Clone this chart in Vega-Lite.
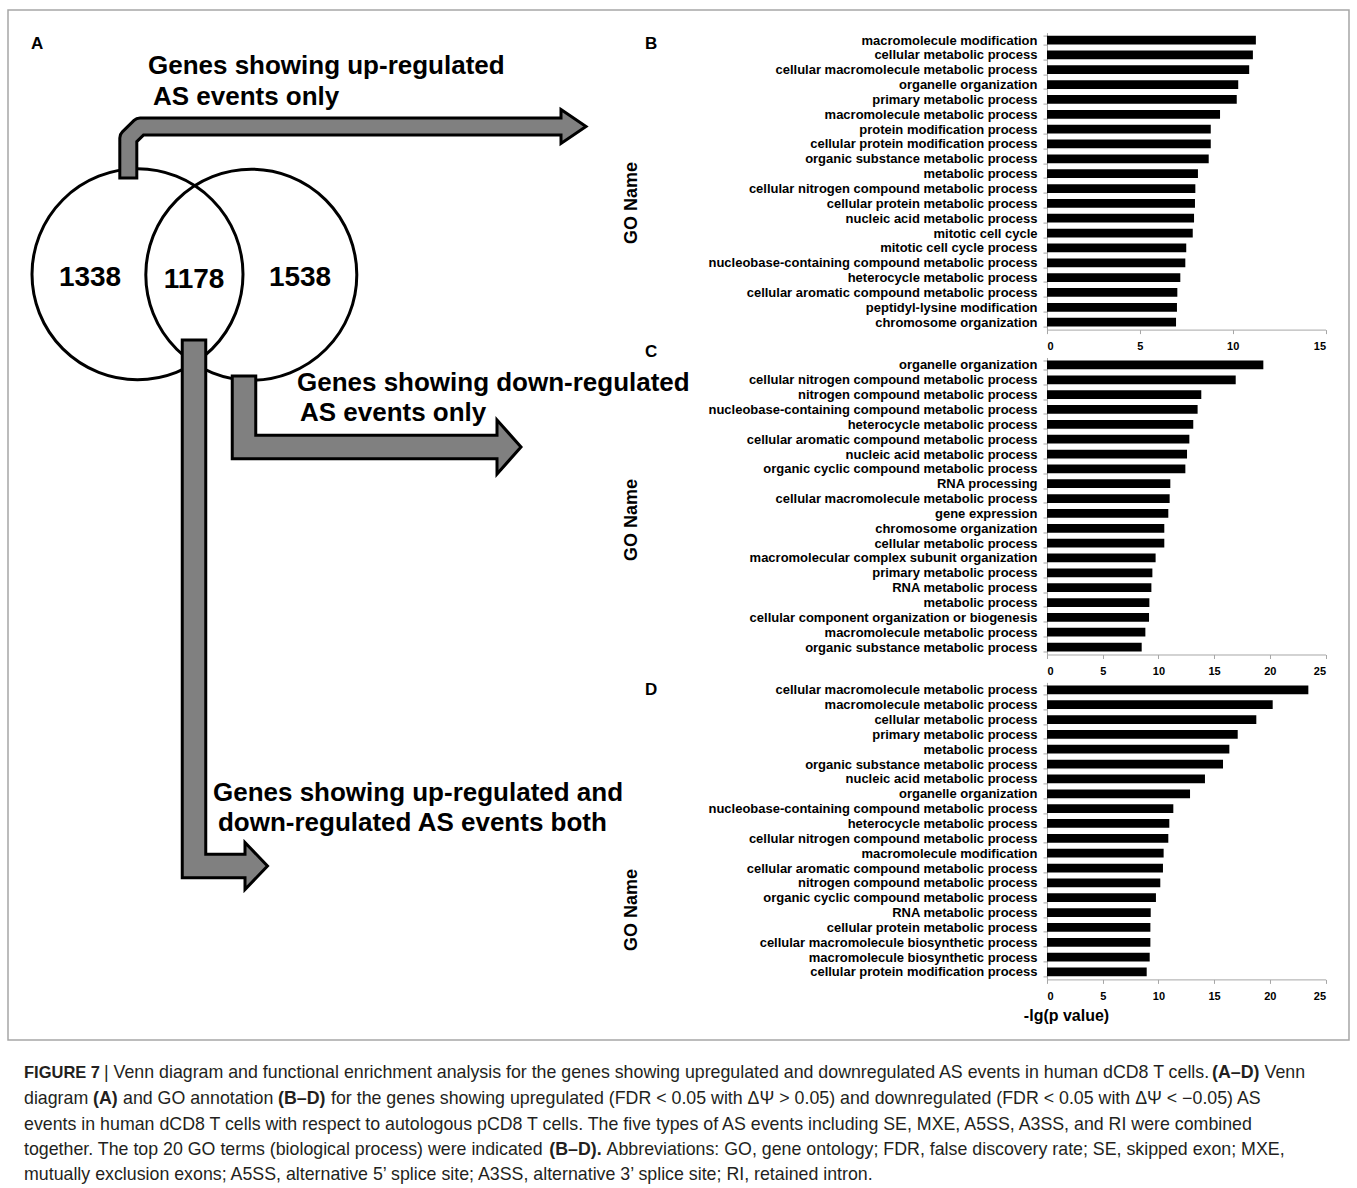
{
  "$schema": "https://vega.github.io/schema/vega-lite/v6.json",
  "padding": {"left": 7, "top": 8.6, "right": 0, "bottom": 0},
  "bounds": "flush",
  "spacing": 27.9,
  "config": {
    "view": {"stroke": null},
    "font": "Liberation Sans",
    "axis": {"domainColor": "#a6a6a6", "tickColor": "#a6a6a6", "grid": false, "labelColor": "black", "labelFont": "Liberation Sans", "labelFontWeight": "bold", "tickSize": 4, "labelLimit": 500, "titleColor": "black", "titleFont": "Liberation Sans"},
    "axisX": {"labelFontSize": 11, "labelPadding": 7},
    "axisY": {"labelFontSize": 13, "labelPadding": 6}
  },
  "datasets": {
    "bars_b": [
      {"term": "macromolecule modification", "p": 11.25},
      {"term": "cellular metabolic process", "p": 11.09},
      {"term": "cellular macromolecule metabolic process", "p": 10.89},
      {"term": "organelle organization", "p": 10.30},
      {"term": "primary metabolic process", "p": 10.22},
      {"term": "macromolecule metabolic process", "p": 9.32},
      {"term": "protein modification process", "p": 8.82},
      {"term": "cellular protein modification process", "p": 8.82},
      {"term": "organic substance metabolic process", "p": 8.71},
      {"term": "metabolic process", "p": 8.13},
      {"term": "cellular nitrogen compound metabolic process", "p": 7.99},
      {"term": "cellular protein metabolic process", "p": 7.97},
      {"term": "nucleic acid metabolic process", "p": 7.92},
      {"term": "mitotic cell cycle", "p": 7.85},
      {"term": "mitotic cell cycle process", "p": 7.50},
      {"term": "nucleobase-containing compound metabolic process", "p": 7.45},
      {"term": "heterocycle metabolic process", "p": 7.18},
      {"term": "cellular aromatic compound metabolic process", "p": 7.02},
      {"term": "peptidyl-lysine modification", "p": 7.00},
      {"term": "chromosome organization", "p": 6.95}
    ],
    "bars_c": [
      {"term": "organelle organization", "p": 19.42},
      {"term": "cellular nitrogen compound metabolic process", "p": 16.94},
      {"term": "nitrogen compound metabolic process", "p": 13.85},
      {"term": "nucleobase-containing compound metabolic process", "p": 13.52},
      {"term": "heterocycle metabolic process", "p": 13.13},
      {"term": "cellular aromatic compound metabolic process", "p": 12.78},
      {"term": "nucleic acid metabolic process", "p": 12.57},
      {"term": "organic cyclic compound metabolic process", "p": 12.42},
      {"term": "RNA processing", "p": 11.07},
      {"term": "cellular macromolecule metabolic process", "p": 11.01},
      {"term": "gene expression", "p": 10.89},
      {"term": "chromosome organization", "p": 10.53},
      {"term": "cellular metabolic process", "p": 10.53},
      {"term": "macromolecular complex subunit organization", "p": 9.75},
      {"term": "primary metabolic process", "p": 9.46},
      {"term": "RNA metabolic process", "p": 9.37},
      {"term": "metabolic process", "p": 9.19},
      {"term": "cellular component organization or biogenesis", "p": 9.16},
      {"term": "macromolecule metabolic process", "p": 8.83},
      {"term": "organic substance metabolic process", "p": 8.50}
    ],
    "bars_d": [
      {"term": "cellular macromolecule metabolic process", "p": 23.46},
      {"term": "macromolecule metabolic process", "p": 20.26},
      {"term": "cellular metabolic process", "p": 18.79},
      {"term": "primary metabolic process", "p": 17.12},
      {"term": "metabolic process", "p": 16.37},
      {"term": "organic substance metabolic process", "p": 15.80},
      {"term": "nucleic acid metabolic process", "p": 14.18},
      {"term": "organelle organization", "p": 12.84},
      {"term": "nucleobase-containing compound metabolic process", "p": 11.34},
      {"term": "heterocycle metabolic process", "p": 10.98},
      {"term": "cellular nitrogen compound metabolic process", "p": 10.89},
      {"term": "macromolecule modification", "p": 10.47},
      {"term": "cellular aromatic compound metabolic process", "p": 10.41},
      {"term": "nitrogen compound metabolic process", "p": 10.17},
      {"term": "organic cyclic compound metabolic process", "p": 9.78},
      {"term": "RNA metabolic process", "p": 9.31},
      {"term": "cellular protein metabolic process", "p": 9.28},
      {"term": "cellular macromolecule biosynthetic process", "p": 9.28},
      {"term": "macromolecule biosynthetic process", "p": 9.22},
      {"term": "cellular protein modification process", "p": 8.95}
    ],
    "frame": [{"fx": 8, "fx2": 1349, "fy": 10, "fy2": 1040}],
    "venn": [
      {"set": "up-regulated", "fx": 137.5, "fy": 274.3},
      {"set": "down-regulated", "fx": 251.3, "fy": 274.7}
    ],
    "shafts": [
      {"arrow": "up", "part": "edge", "i": 0, "fx": 128.3, "fy": 179.5},
      {"arrow": "up", "part": "edge", "i": 1, "fx": 128.3, "fy": 138},
      {"arrow": "up", "part": "edge", "i": 2, "fx": 140, "fy": 126.5},
      {"arrow": "up", "part": "edge", "i": 3, "fx": 561, "fy": 126.5},
      {"arrow": "up", "part": "core", "i": 0, "fx": 128.3, "fy": 176.5},
      {"arrow": "up", "part": "core", "i": 1, "fx": 128.3, "fy": 138},
      {"arrow": "up", "part": "core", "i": 2, "fx": 140, "fy": 126.5},
      {"arrow": "up", "part": "core", "i": 3, "fx": 564, "fy": 126.5},
      {"arrow": "down", "part": "edge", "i": 0, "fx": 244, "fy": 374.5},
      {"arrow": "down", "part": "edge", "i": 1, "fx": 244, "fy": 447},
      {"arrow": "down", "part": "edge", "i": 2, "fx": 497, "fy": 447},
      {"arrow": "down", "part": "core", "i": 0, "fx": 244, "fy": 377.5},
      {"arrow": "down", "part": "core", "i": 1, "fx": 244, "fy": 447},
      {"arrow": "down", "part": "core", "i": 2, "fx": 500, "fy": 447},
      {"arrow": "both", "part": "edge", "i": 0, "fx": 194, "fy": 338.5},
      {"arrow": "both", "part": "edge", "i": 1, "fx": 194, "fy": 866},
      {"arrow": "both", "part": "edge", "i": 2, "fx": 245, "fy": 866},
      {"arrow": "both", "part": "core", "i": 0, "fx": 194, "fy": 341.5},
      {"arrow": "both", "part": "core", "i": 1, "fx": 194, "fy": 866},
      {"arrow": "both", "part": "core", "i": 2, "fx": 248, "fy": 866}
    ],
    "heads": [
      {"arrow": "up", "fx": 561, "fy": 126.5},
      {"arrow": "down", "fx": 497, "fy": 447},
      {"arrow": "both", "fx": 245, "fy": 866}
    ],
    "labels": [
      {"kind": "panel", "text": "A", "fx": 37, "fy": 44},
      {"kind": "panel", "text": "B", "fx": 651, "fy": 44},
      {"kind": "panel", "text": "C", "fx": 651, "fy": 352},
      {"kind": "panel", "text": "D", "fx": 651, "fy": 690},
      {"kind": "arrow", "text": "Genes showing up-regulated", "fx": 148, "fy": 66},
      {"kind": "arrow", "text": "AS events only", "fx": 153, "fy": 97},
      {"kind": "arrow", "text": "Genes showing down-regulated", "fx": 297, "fy": 383},
      {"kind": "arrow", "text": "AS events only", "fx": 300, "fy": 413},
      {"kind": "arrow", "text": "Genes showing up-regulated and", "fx": 213, "fy": 793},
      {"kind": "arrow", "text": "down-regulated AS events both", "fx": 218, "fy": 823},
      {"kind": "number", "text": "1338", "fx": 90, "fy": 278},
      {"kind": "number", "text": "1178", "fx": 194, "fy": 280},
      {"kind": "number", "text": "1538", "fx": 300, "fy": 278},
      {"kind": "goname", "text": "GO Name", "fx": 632, "fy": 203},
      {"kind": "goname", "text": "GO Name", "fx": 632, "fy": 520},
      {"kind": "goname", "text": "GO Name", "fx": 632, "fy": 910},
      {"kind": "figno", "text": "FIGURE 7", "fx": 24, "fy": 1073},
      {"kind": "caption", "text": "| Venn diagram and functional enrichment analysis for the genes showing upregulated and downregulated AS events in human dCD8 T cells.", "fx": 104, "fy": 1073},
      {"kind": "captionbold", "text": "(A–D)", "fx": 1212, "fy": 1073},
      {"kind": "caption", "text": "Venn", "fx": 1264.5, "fy": 1073},
      {"kind": "caption", "text": "diagram", "fx": 24, "fy": 1099},
      {"kind": "captionbold", "text": "(A)", "fx": 93, "fy": 1099},
      {"kind": "caption", "text": "and GO annotation", "fx": 123, "fy": 1099},
      {"kind": "captionbold", "text": "(B–D)", "fx": 278, "fy": 1099},
      {"kind": "caption", "text": "for the genes showing upregulated (FDR < 0.05 with ΔΨ > 0.05) and downregulated (FDR < 0.05 with ΔΨ < −0.05) AS", "fx": 331, "fy": 1099},
      {"kind": "caption", "text": "events in human dCD8 T cells with respect to autologous pCD8 T cells. The five types of AS events including SE, MXE, A5SS, A3SS, and RI were combined", "fx": 24, "fy": 1125},
      {"kind": "caption", "text": "together. The top 20 GO terms (biological process) were indicated", "fx": 24, "fy": 1150},
      {"kind": "captionbold", "text": "(B–D).", "fx": 549.3, "fy": 1150},
      {"kind": "caption", "text": "Abbreviations: GO, gene ontology; FDR, false discovery rate; SE, skipped exon; MXE,", "fx": 606.6, "fy": 1150},
      {"kind": "caption", "text": "mutually exclusion exons; A5SS, alternative 5’ splice site; A3SS, alternative 3’ splice site; RI, retained intron.", "fx": 24, "fy": 1175}
    ]
  },
  "vconcat": [
    {
      "width": 278.5,
      "height": 297,
      "layer": [
        {
          "data": {"name": "bars_b"},
          "mark": {"type": "bar", "color": "black"},
          "encoding": {
            "x": {"field": "p", "type": "quantitative", "scale": {"domain": [0, 15], "nice": false}, "axis": {"values": [0, 5, 10, 15], "title": null}},
            "y": {"field": "term", "type": "nominal", "sort": null, "scale": {"paddingInner": 0.41, "paddingOuter": 0.205}, "axis": {"title": null, "tickBand": "extent"}}
          }
        },
        {
          "encoding": {
            "x": {"field": "fx", "type": "quantitative", "scale": {"domain": [1047, 1325.5], "zero": false, "nice": false}, "axis": null},
            "y": {"field": "fy", "type": "quantitative", "scale": {"domain": [32.6, 329.6], "zero": false, "nice": false, "reverse": true}, "axis": null}
          },
          "layer": [
            {
              "data": {"name": "frame"},
              "mark": {"type": "rect", "filled": false, "stroke": "#a6a6a6", "strokeWidth": 1.5},
              "encoding": {"x2": {"field": "fx2"}, "y2": {"field": "fy2"}}
            },
            {
              "data": {"name": "venn"},
              "mark": {"type": "point", "shape": "circle", "filled": false, "stroke": "black", "strokeWidth": 3, "size": 44521, "opacity": 1}
            },
            {
              "data": {"name": "shafts"},
              "transform": [{"filter": "datum.arrow === 'up' && datum.part === 'edge'"}],
              "mark": {"type": "line", "stroke": "black", "strokeWidth": 20, "strokeJoin": "round", "strokeCap": "butt"},
              "encoding": {"detail": {"field": "arrow"}, "order": {"field": "i"}}
            },
            {
              "data": {"name": "shafts"},
              "transform": [{"filter": "datum.arrow !== 'up' && datum.part === 'edge'"}],
              "mark": {"type": "line", "stroke": "black", "strokeWidth": 26.5, "strokeJoin": "miter", "strokeCap": "butt"},
              "encoding": {"detail": {"field": "arrow"}, "order": {"field": "i"}}
            },
            {
              "data": {"name": "heads"},
              "mark": {"type": "point", "filled": true, "fill": "#808080", "stroke": "black", "strokeWidth": 3, "strokeJoin": "miter", "strokeMiterLimit": 10, "size": 400, "opacity": 1},
              "encoding": {
                "shape": {"field": "arrow", "type": "nominal", "legend": null, "scale": {"domain": ["up", "down", "both"], "range": ["M 0 -1.7 L 2.5 0 L 0 1.7 Z", "M 0 -2.7 L 2.4 0 L 0 2.7 Z", "M 0 -2.35 L 2.25 0 L 0 2.35 Z"]}}
              }
            },
            {
              "data": {"name": "shafts"},
              "transform": [{"filter": "datum.arrow === 'up' && datum.part === 'core'"}],
              "mark": {"type": "line", "stroke": "#808080", "strokeWidth": 14, "strokeJoin": "round", "strokeCap": "butt"},
              "encoding": {"detail": {"field": "arrow"}, "order": {"field": "i"}}
            },
            {
              "data": {"name": "shafts"},
              "transform": [{"filter": "datum.arrow !== 'up' && datum.part === 'core'"}],
              "mark": {"type": "line", "stroke": "#808080", "strokeWidth": 20.5, "strokeJoin": "miter", "strokeCap": "butt"},
              "encoding": {"detail": {"field": "arrow"}, "order": {"field": "i"}}
            },
            {
              "data": {"name": "labels"},
              "transform": [{"filter": "datum.kind === 'panel'"}],
              "mark": {"type": "text", "font": "Liberation Sans", "fontWeight": "bold", "fontSize": 17, "align": "center", "baseline": "middle", "color": "black"},
              "encoding": {"text": {"field": "text"}}
            },
            {
              "data": {"name": "labels"},
              "transform": [{"filter": "datum.kind === 'arrow'"}],
              "mark": {"type": "text", "font": "Liberation Sans", "fontWeight": "bold", "fontSize": 26, "align": "left", "baseline": "middle", "color": "black"},
              "encoding": {"text": {"field": "text"}}
            },
            {
              "data": {"name": "labels"},
              "transform": [{"filter": "datum.kind === 'number'"}],
              "mark": {"type": "text", "font": "Liberation Sans", "fontWeight": "bold", "fontSize": 28, "align": "center", "baseline": "middle", "color": "black"},
              "encoding": {"text": {"field": "text"}}
            },
            {
              "data": {"name": "labels"},
              "transform": [{"filter": "datum.kind === 'goname'"}],
              "mark": {"type": "text", "font": "Liberation Sans", "fontWeight": "bold", "fontSize": 18, "align": "center", "baseline": "middle", "angle": 270, "color": "black"},
              "encoding": {"text": {"field": "text"}}
            },
            {
              "data": {"name": "labels"},
              "transform": [{"filter": "datum.kind === 'figno'"}],
              "mark": {"type": "text", "font": "Liberation Sans", "fontWeight": "bold", "fontSize": 16.5, "align": "left", "baseline": "middle", "color": "#231f20"},
              "encoding": {"text": {"field": "text"}}
            },
            {
              "data": {"name": "labels"},
              "transform": [{"filter": "datum.kind === 'captionbold'"}],
              "mark": {"type": "text", "font": "Liberation Sans", "fontWeight": "bold", "fontSize": 17.8, "align": "left", "baseline": "middle", "color": "#231f20"},
              "encoding": {"text": {"field": "text"}}
            },
            {
              "data": {"name": "labels"},
              "transform": [{"filter": "datum.kind === 'caption'"}],
              "mark": {"type": "text", "font": "Liberation Sans", "fontSize": 17.8, "align": "left", "baseline": "middle", "color": "#231f20"},
              "encoding": {"text": {"field": "text"}}
            }
          ]
        }
      ],
      "resolve": {"scale": {"x": "independent", "y": "independent"}, "axis": {"x": "independent", "y": "independent"}}
    },
    {
      "width": 278.5,
      "height": 297,
      "data": {"name": "bars_c"},
      "mark": {"type": "bar", "color": "black"},
      "encoding": {
        "x": {"field": "p", "type": "quantitative", "scale": {"domain": [0, 25], "nice": false}, "axis": {"values": [0, 5, 10, 15, 20, 25], "title": null}},
        "y": {"field": "term", "type": "nominal", "sort": null, "scale": {"paddingInner": 0.41, "paddingOuter": 0.205}, "axis": {"title": null, "tickBand": "extent"}}
      }
    },
    {
      "width": 278.5,
      "height": 297,
      "data": {"name": "bars_d"},
      "mark": {"type": "bar", "color": "black"},
      "encoding": {
        "x": {"field": "p", "type": "quantitative", "scale": {"domain": [0, 25], "nice": false}, "axis": {"values": [0, 5, 10, 15, 20, 25], "title": "-lg(p value)", "titleFontSize": 16, "titleFontWeight": "bold", "titleX": 19, "titleY": 36, "titleAlign": "center", "titleBaseline": "middle"}},
        "y": {"field": "term", "type": "nominal", "sort": null, "scale": {"paddingInner": 0.41, "paddingOuter": 0.205}, "axis": {"title": null, "tickBand": "extent"}}
      }
    }
  ]
}
